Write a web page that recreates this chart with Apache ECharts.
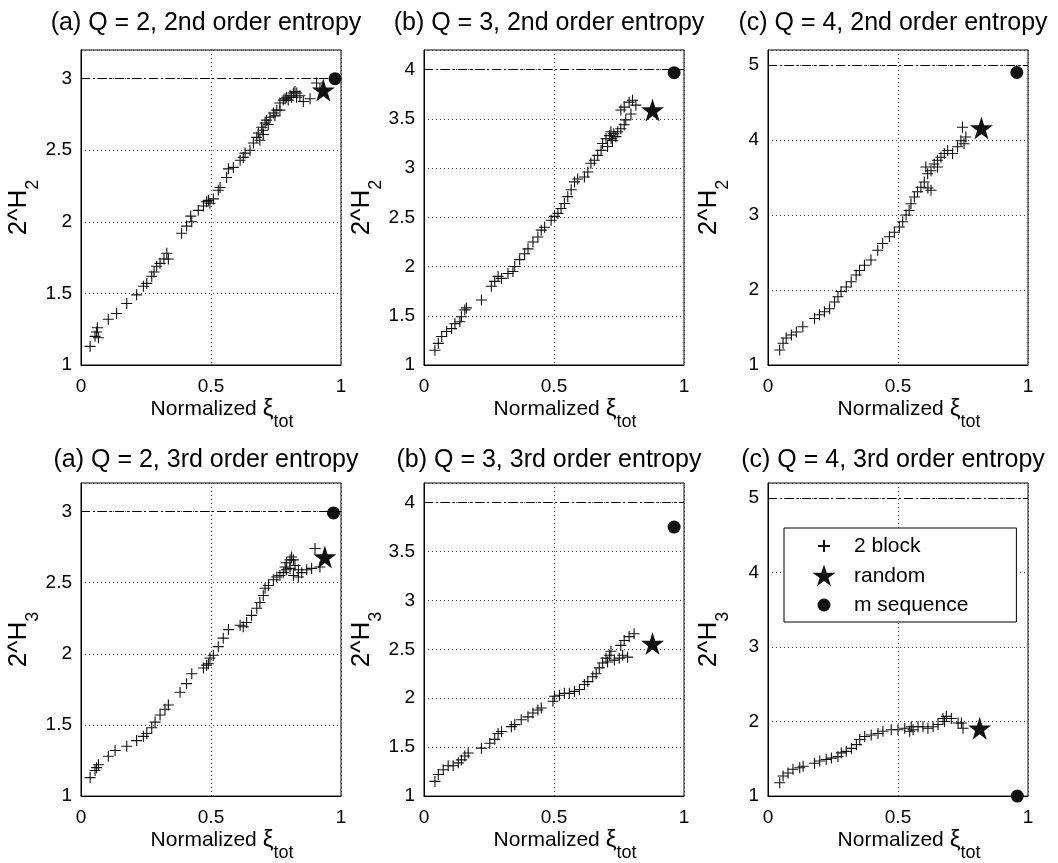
<!DOCTYPE html>
<html>
<head>
<meta charset="utf-8">
<script src="https://cdn.jsdelivr.net/npm/echarts@6/dist/echarts.min.js"></script>
<style>
html,body{margin:0;padding:0;background:#fff;}
#chart{width:1058px;height:863px;}
</style>
</head>
<body>
<div id="chart"></div>
<script>
// ---------- data ----------
const panelTitles = [
  '(a) Q = 2, 2nd order entropy', '(b) Q = 3, 2nd order entropy', '(c) Q = 4, 2nd order entropy',
  '(a) Q = 2, 3rd order entropy', '(b) Q = 3, 3rd order entropy', '(c) Q = 4, 3rd order entropy'
];
const entropyOrder = ['2', '2', '2', '3', '3', '3'];
const ceilingValues = [3, 4, 5, 3, 4, 5];
const yMaxValues = [3.2, 4.2, 5.2, 3.2, 4.2, 5.2];
const yIntervals = [0.5, 0.5, 1, 0.5, 0.5, 1];
const seriesNames = ['2 block', 'random', 'm sequence'];

const blockQ2H2 = [[0.035,1.13],[0.054,1.20],[0.06,1.23],[0.063,1.26],[0.067,1.19],[0.105,1.32],[0.137,1.36],[0.176,1.43],[0.214,1.49],[0.24,1.55],[0.253,1.57],[0.272,1.62],[0.281,1.65],[0.291,1.69],[0.304,1.71],[0.319,1.74],[0.33,1.78],[0.336,1.74],[0.387,1.92],[0.406,1.97],[0.422,2.04],[0.426,2.0],[0.451,2.08],[0.471,2.11],[0.483,2.14],[0.49,2.15],[0.496,2.13],[0.509,2.16],[0.528,2.22],[0.535,2.24],[0.56,2.31],[0.567,2.37],[0.586,2.38],[0.612,2.43],[0.624,2.45],[0.631,2.48],[0.65,2.5],[0.663,2.55],[0.676,2.59],[0.682,2.62],[0.688,2.57],[0.701,2.61],[0.695,2.66],[0.708,2.69],[0.714,2.71],[0.727,2.73],[0.74,2.76],[0.746,2.74],[0.753,2.78],[0.765,2.78],[0.765,2.83],[0.778,2.85],[0.785,2.86],[0.791,2.87],[0.797,2.85],[0.804,2.88],[0.81,2.87],[0.817,2.90],[0.823,2.91],[0.829,2.87],[0.842,2.88],[0.855,2.84],[0.881,2.86],[0.906,2.97],[0.919,2.93],[0.72,2.68],[0.70,2.64],[0.83,2.90]];
const blockQ3H2 = [[0.042,1.15],[0.055,1.22],[0.068,1.29],[0.087,1.34],[0.106,1.37],[0.119,1.42],[0.138,1.44],[0.144,1.49],[0.157,1.56],[0.163,1.58],[0.221,1.66],[0.259,1.80],[0.272,1.85],[0.285,1.90],[0.298,1.88],[0.323,1.93],[0.342,1.95],[0.349,2.0],[0.368,2.07],[0.387,2.13],[0.40,2.18],[0.419,2.25],[0.438,2.30],[0.451,2.37],[0.464,2.40],[0.489,2.47],[0.502,2.51],[0.515,2.54],[0.527,2.59],[0.54,2.64],[0.553,2.71],[0.566,2.78],[0.579,2.86],[0.591,2.89],[0.617,2.91],[0.63,2.96],[0.642,3.05],[0.655,3.08],[0.668,3.13],[0.681,3.18],[0.687,3.25],[0.70,3.30],[0.713,3.33],[0.719,3.37],[0.725,3.28],[0.706,3.22],[0.738,3.32],[0.745,3.37],[0.757,3.40],[0.77,3.44],[0.776,3.49],[0.757,3.59],[0.77,3.62],[0.789,3.67],[0.802,3.69],[0.815,3.64],[0.796,3.55],[0.73,3.35],[0.72,3.30]];
const blockQ4H2 = [[0.045,1.20],[0.058,1.29],[0.07,1.36],[0.09,1.40],[0.109,1.44],[0.134,1.51],[0.179,1.62],[0.198,1.67],[0.217,1.71],[0.237,1.75],[0.256,1.84],[0.269,1.91],[0.281,1.98],[0.301,2.04],[0.32,2.11],[0.339,2.20],[0.352,2.26],[0.371,2.33],[0.396,2.40],[0.422,2.53],[0.441,2.62],[0.467,2.71],[0.486,2.77],[0.505,2.84],[0.518,2.91],[0.531,3.0],[0.543,3.06],[0.55,3.15],[0.563,3.24],[0.575,3.31],[0.588,3.37],[0.601,3.44],[0.614,3.55],[0.607,3.64],[0.627,3.59],[0.627,3.33],[0.615,3.36],[0.639,3.68],[0.652,3.73],[0.652,3.64],[0.665,3.77],[0.678,3.82],[0.691,3.86],[0.71,3.82],[0.729,3.91],[0.742,3.99],[0.748,4.17],[0.754,3.95],[0.761,4.04]];
const blockQ2H3 = [[0.035,1.13],[0.054,1.18],[0.067,1.22],[0.06,1.20],[0.105,1.28],[0.131,1.32],[0.176,1.35],[0.214,1.39],[0.24,1.42],[0.253,1.44],[0.272,1.48],[0.285,1.52],[0.304,1.57],[0.323,1.61],[0.336,1.64],[0.381,1.73],[0.406,1.79],[0.426,1.86],[0.471,1.90],[0.483,1.92],[0.49,1.93],[0.496,1.97],[0.509,1.99],[0.528,2.05],[0.547,2.11],[0.567,2.17],[0.612,2.20],[0.624,2.19],[0.637,2.22],[0.656,2.27],[0.676,2.32],[0.688,2.36],[0.701,2.41],[0.708,2.46],[0.721,2.48],[0.74,2.52],[0.753,2.54],[0.765,2.55],[0.778,2.57],[0.785,2.61],[0.791,2.64],[0.804,2.66],[0.81,2.68],[0.817,2.66],[0.823,2.62],[0.804,2.60],[0.817,2.55],[0.836,2.54],[0.849,2.57],[0.868,2.59],[0.887,2.60],[0.90,2.74],[0.919,2.61],[0.836,2.59],[0.79,2.59]];
const blockQ3H3 = [[0.042,1.15],[0.055,1.22],[0.074,1.27],[0.093,1.31],[0.112,1.31],[0.132,1.34],[0.144,1.37],[0.157,1.41],[0.17,1.44],[0.221,1.49],[0.253,1.54],[0.272,1.58],[0.285,1.64],[0.298,1.66],[0.336,1.71],[0.349,1.73],[0.374,1.78],[0.40,1.81],[0.419,1.85],[0.438,1.88],[0.451,1.90],[0.496,1.97],[0.502,2.02],[0.521,2.03],[0.54,2.05],[0.559,2.05],[0.579,2.07],[0.598,2.09],[0.617,2.14],[0.63,2.17],[0.649,2.22],[0.662,2.25],[0.674,2.31],[0.687,2.36],[0.70,2.41],[0.706,2.37],[0.713,2.44],[0.719,2.48],[0.732,2.39],[0.751,2.41],[0.764,2.44],[0.783,2.42],[0.757,2.54],[0.77,2.59],[0.789,2.63],[0.808,2.66]];
const blockQ4H3 = [[0.045,1.18],[0.058,1.27],[0.077,1.31],[0.096,1.36],[0.122,1.38],[0.135,1.40],[0.179,1.44],[0.199,1.47],[0.224,1.49],[0.244,1.51],[0.269,1.53],[0.282,1.58],[0.301,1.60],[0.321,1.64],[0.34,1.69],[0.353,1.76],[0.372,1.80],[0.397,1.82],[0.423,1.84],[0.442,1.87],[0.474,1.89],[0.50,1.89],[0.526,1.91],[0.545,1.87],[0.551,1.93],[0.558,1.89],[0.577,1.93],[0.596,1.93],[0.615,1.91],[0.635,1.93],[0.654,1.96],[0.673,2.04],[0.679,2.0],[0.686,2.07],[0.705,2.04],[0.731,1.98],[0.744,1.98],[0.75,1.91]];

const blockData = [blockQ2H2, blockQ3H2, blockQ4H2, blockQ2H3, blockQ3H3, blockQ4H3];
const randomPoints = [[0.932,2.92],[0.879,3.59],[0.821,4.16],[0.938,2.68],[0.879,2.56],[0.814,1.91]];
const mSequencePoints = [[0.977,3.0],[0.962,3.97],[0.957,4.90],[0.971,2.99],[0.962,3.75],[0.959,1.0]];

// ---------- styling / layout ----------
const FONT = 'Liberation Sans, Arial, Helvetica, sans-serif';
const colLeft = [81, 424, 768];
const rowTop = [50, 483];
const gridW = 260, gridH = 315;

const plusPath = 'path://M0,5 L10,5 M5,0 L5,10';
const starPath = 'path://M10,0 L12.245,6.91 L19.511,6.91 L13.633,11.18 L15.878,18.09 L10,13.82 L4.122,18.09 L6.367,11.18 L0.489,6.91 L7.755,6.91 Z';
const plusLegend = 'path://M0,0 M24,24 M6,12 L18,12 M12,6 L12,18';
const starLegend = 'path://M0,0 M24,24 M12,0.5 L14.7,8.78 L23.41,8.79 L16.37,13.92 L19.05,22.21 L12,17.1 L4.95,22.21 L7.63,13.92 L0.59,8.79 L9.3,8.78 Z';
const dotLegend = 'path://M0,0 M24,24 M5.5,12 A6.5,6.5 0 1 1 18.5,12 A6.5,6.5 0 1 1 5.5,12 Z';

const grids = [], xAxes = [], yAxes = [], titles = [], series = [];
for (let i = 0; i < 6; i++) {
  const r = Math.floor(i / 3), c = i % 3;
  grids.push({left: colLeft[c], top: rowTop[r], width: gridW, height: gridH,
    show: true, borderColor: '#000', borderWidth: 1, backgroundColor: 'transparent'});
  titles.push({text: panelTitles[i], left: colLeft[c] + gridW / 2 - 5, top: r === 0 ? 11 : 448,
    textAlign: 'center', padding: 0,
    textStyle: {fontFamily: FONT, fontSize: 25, fontWeight: 'normal', color: '#000'}});
  xAxes.push({gridIndex: i, type: 'value', min: 0, max: 1, interval: 0.5,
    axisLine: {show: true, onZero: false, lineStyle: {color: '#000', width: 1}},
    axisTick: {show: false},
    axisLabel: {color: '#000', fontFamily: FONT, fontSize: 19, margin: 12},
    splitLine: {show: true, lineStyle: {color: '#444', width: 1, type: [1, 3]}},
    name: '{n|Normalized }{g|ξ}{s|tot}', nameLocation: 'middle', nameGap: 19,
    nameTextStyle: {color: '#000', fontFamily: FONT, padding: [0, 0, 0, 22],
      rich: {n: {fontSize: 21, fontFamily: FONT, color: '#000'},
             g: {fontSize: 24, fontFamily: FONT, color: '#000'},
             s: {fontSize: 18, fontFamily: FONT, color: '#000', padding: [26, 0, 0, 0]}}}
  });
  yAxes.push({gridIndex: i, type: 'value', min: 1, max: yMaxValues[i], interval: yIntervals[i],
    axisLine: {show: true, onZero: false, lineStyle: {color: '#000', width: 1}},
    axisTick: {show: false},
    axisLabel: {color: '#000', fontFamily: FONT, fontSize: 19, margin: 9, showMaxLabel: false},
    splitLine: {show: true, lineStyle: {color: '#444', width: 1, type: [1, 3]}},
    name: '{n|2^H}{s|' + entropyOrder[i] + '}', nameLocation: 'middle', nameGap: 36, nameRotate: 90,
    nameTextStyle: {color: '#000', fontFamily: FONT,
      rich: {n: {fontSize: 26, fontFamily: FONT, color: '#000'},
             s: {fontSize: 18, fontFamily: FONT, color: '#000', padding: [28, 0, 0, 0]}}}
  });
  series.push({name: seriesNames[0], type: 'scatter', xAxisIndex: i, yAxisIndex: i,
    data: blockData[i], symbol: plusPath, symbolSize: 11,
    itemStyle: {color: '#111', borderColor: '#111', borderWidth: 1.1, opacity: 1},
    markLine: {silent: true, symbol: ['none', 'none'], label: {show: false},
      lineStyle: {color: '#000', width: 1, type: [9, 3, 2, 3]},
      emphasis: {disabled: true},
      data: [{yAxis: ceilingValues[i]}]}
  });
  series.push({name: seriesNames[1], type: 'scatter', xAxisIndex: i, yAxisIndex: i,
    data: [randomPoints[i]], symbol: starPath, symbolSize: 23, clip: false,
    itemStyle: {color: '#111', opacity: 1}});
  series.push({name: seriesNames[2], type: 'scatter', xAxisIndex: i, yAxisIndex: i,
    data: [mSequencePoints[i]], symbol: 'circle', symbolSize: 13, clip: false,
    itemStyle: {color: '#111', opacity: 1}});
}

const chart = echarts.init(document.getElementById('chart'), null, {renderer: 'canvas'});
chart.setOption({
  backgroundColor: '#fff',
  animation: false,
  title: titles,
  grid: grids,
  xAxis: xAxes,
  yAxis: yAxes,
  legend: {
    orient: 'vertical', left: 784, top: 528, selectedMode: false,
    backgroundColor: '#fff', borderColor: '#000', borderWidth: 1,
    padding: [5, 48, 5, 27], itemWidth: 24, itemHeight: 24, itemGap: 5,
    textStyle: {fontFamily: FONT, fontSize: 21, color: '#000', padding: [0, 0, 0, 13]},
    data: [{name: seriesNames[0], icon: plusLegend},
           {name: seriesNames[1], icon: starLegend},
           {name: seriesNames[2], icon: dotLegend}]
  },
  series: series
});
</script>
</body>
</html>
